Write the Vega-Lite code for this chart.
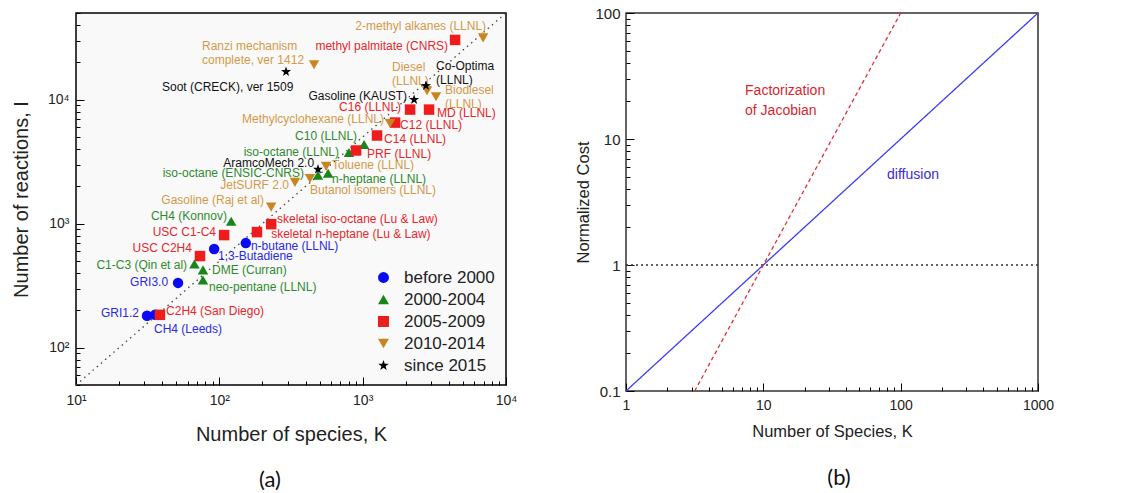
{
  "$schema": "https://vega.github.io/schema/vega-lite/v6.json",
  "background": "white",
  "padding": {"left": 10, "top": 5, "right": 0, "bottom": 0},
  "spacing": 57,
  "config": {
    "font": "Liberation Sans",
    "axis": {"grid": false, "domain": false, "tickColor": "black", "ticks": true, "tickWidth": 1, "labelColor": "#222", "titleColor": "#222", "titleFontWeight": "normal", "labelOverlap": false, "labelFlush": false}
  },
  "datasets": {
    "diag": [{"K": 10, "I": 50}, {"K": 10000, "I": 50000}],
    "points": [
      {"name": "GRI1.2", "K": 31.3, "I": 181, "period": "before 2000"},
      {"name": "CH4 (Leeds)", "K": 35.6, "I": 184, "period": "before 2000"},
      {"name": "GRI3.0", "K": 51.5, "I": 333, "period": "before 2000"},
      {"name": "1,3-Butadiene", "K": 92, "I": 624, "period": "before 2000"},
      {"name": "n-butane (LLNL)", "K": 153, "I": 697, "period": "before 2000"},
      {"name": "CH4 (Konnov)", "K": 121, "I": 1047, "period": "2000-2004"},
      {"name": "C1-C3 (Qin et al)", "K": 67, "I": 473, "period": "2000-2004"},
      {"name": "DME (Curran)", "K": 76.9, "I": 424, "period": "2000-2004"},
      {"name": "neo-pentane (LLNL)", "K": 76.9, "I": 351, "period": "2000-2004"},
      {"name": "iso-octane (ENSIC-CNRS)", "K": 488, "I": 2455, "period": "2000-2004"},
      {"name": "n-heptane (LLNL)", "K": 574, "I": 2547, "period": "2000-2004"},
      {"name": "iso-octane (LLNL)", "K": 803, "I": 3750, "period": "2000-2004"},
      {"name": "C10 (LLNL)", "K": 1023, "I": 4356, "period": "2000-2004"},
      {"name": "C2H4 (San Diego)", "K": 38.5, "I": 184, "period": "2005-2009"},
      {"name": "USC C2H4", "K": 73.3, "I": 548, "period": "2005-2009"},
      {"name": "USC C1-C4", "K": 108, "I": 809, "period": "2005-2009"},
      {"name": "skeletal n-heptane (Lu & Law)", "K": 183, "I": 855, "period": "2005-2009"},
      {"name": "skeletal iso-octane (Lu & Law)", "K": 230, "I": 991, "period": "2005-2009"},
      {"name": "PRF (LLNL)", "K": 900, "I": 3893, "period": "2005-2009"},
      {"name": "C14 (LLNL)", "K": 1259, "I": 5140, "period": "2005-2009"},
      {"name": "C12 (LLNL)", "K": 1683, "I": 6534, "period": "2005-2009"},
      {"name": "C16 (LLNL)", "K": 2143, "I": 8318, "period": "2005-2009"},
      {"name": "MD (LLNL)", "K": 2904, "I": 8318, "period": "2005-2009"},
      {"name": "methyl palmitate (CNRS)", "K": 4415, "I": 30340, "period": "2005-2009"},
      {"name": "Gasoline (Raj et al)", "K": 230, "I": 1360, "period": "2010-2014"},
      {"name": "JetSURF 2.0", "K": 337, "I": 2154, "period": "2010-2014"},
      {"name": "Butanol isomers (LLNL)", "K": 429, "I": 2317, "period": "2010-2014"},
      {"name": "Toluene (LLNL)", "K": 556, "I": 2897, "period": "2010-2014"},
      {"name": "Methylcyclohexane (LLNL)", "K": 1552, "I": 6415, "period": "2010-2014"},
      {"name": "Diesel (LLNL)", "K": 2812, "I": 11800, "period": "2010-2014"},
      {"name": "Biodiesel (LLNL)", "K": 3250, "I": 10570, "period": "2010-2014"},
      {"name": "2-methyl alkanes (LLNL)", "K": 6920, "I": 31500, "period": "2010-2014"},
      {"name": "Ranzi mechanism complete, ver 1412", "K": 458, "I": 19100, "period": "2010-2014"},
      {"name": "AramcoMech 2.0", "K": 488, "I": 2742, "period": "since 2015"},
      {"name": "Soot (CRECK), ver 1509", "K": 292, "I": 16800, "period": "since 2015"},
      {"name": "Gasoline (KAUST)", "K": 2285, "I": 10000, "period": "since 2015"},
      {"name": "Co-Optima (LLNL)", "K": 2766, "I": 12950, "period": "since 2015"}
    ],
    "labels": [
      {"text": "2-methyl alkanes (LLNL)", "lx": 7261, "ly": 39270, "period": "2010-2014", "side": "right"},
      {"text": "methyl palmitate (CNRS)", "lx": 3945, "ly": 27160, "period": "2005-2009", "side": "right"},
      {"text": "Ranzi mechanism\ncomplete, ver 1412", "lx": 75.7, "ly": 27160, "period": "2010-2014", "side": "left"},
      {"text": "Soot (CRECK), ver 1509", "lx": 39.8, "ly": 12710, "period": "since 2015", "side": "left"},
      {"text": "Diesel\n(LLNL)", "lx": 1603, "ly": 18400, "period": "2010-2014", "side": "left"},
      {"text": "Co-Optima\n(LLNL)", "lx": 3251, "ly": 18750, "period": "since 2015", "side": "left"},
      {"text": "Gasoline (KAUST)", "lx": 2042, "ly": 10770, "period": "since 2015", "side": "right"},
      {"text": "Biodiesel\n(LLNL)", "lx": 3758, "ly": 12020, "period": "2010-2014", "side": "left"},
      {"text": "C16 (LLNL)", "lx": 1854, "ly": 8790, "period": "2005-2009", "side": "right"},
      {"text": "MD (LLNL)", "lx": 3304, "ly": 7870, "period": "2005-2009", "side": "left"},
      {"text": "Methylcyclohexane (LLNL)", "lx": 1410, "ly": 7030, "period": "2010-2014", "side": "right"},
      {"text": "C12 (LLNL)", "lx": 1824, "ly": 6300, "period": "2005-2009", "side": "left"},
      {"text": "C10 (LLNL)", "lx": 914, "ly": 5050, "period": "2000-2004", "side": "right"},
      {"text": "C14 (LLNL)", "lx": 1410, "ly": 4860, "period": "2005-2009", "side": "left"},
      {"text": "iso-octane (LLNL)", "lx": 684, "ly": 3750, "period": "2000-2004", "side": "right"},
      {"text": "PRF (LLNL)", "lx": 1074, "ly": 3614, "period": "2005-2009", "side": "left"},
      {"text": "AramcoMech 2.0", "lx": 458, "ly": 3062, "period": "since 2015", "side": "right"},
      {"text": "Toluene (LLNL)", "lx": 611, "ly": 2951, "period": "2010-2014", "side": "left"},
      {"text": "iso-octane (ENSIC-CNRS)", "lx": 390, "ly": 2547, "period": "2000-2004", "side": "right"},
      {"text": "n-heptane (LLNL)", "lx": 611, "ly": 2275, "period": "2000-2004", "side": "left"},
      {"text": "JetSURF 2.0", "lx": 306, "ly": 2037, "period": "2010-2014", "side": "right"},
      {"text": "Butanol isomers (LLNL)", "lx": 429, "ly": 1858, "period": "2010-2014", "side": "left"},
      {"text": "Gasoline (Raj et al)", "lx": 205, "ly": 1545, "period": "2010-2014", "side": "right"},
      {"text": "skeletal iso-octane (Lu & Law)", "lx": 253, "ly": 1086, "period": "2005-2009", "side": "left"},
      {"text": "skeletal n-heptane (Lu & Law)", "lx": 230, "ly": 824, "period": "2005-2009", "side": "left"},
      {"text": "CH4 (Konnov)", "lx": 113, "ly": 1148, "period": "2000-2004", "side": "right"},
      {"text": "USC C1-C4", "lx": 94.8, "ly": 855, "period": "2005-2009", "side": "right"},
      {"text": "n-butane (LLNL)", "lx": 166, "ly": 659, "period": "before 2000", "side": "left"},
      {"text": "USC C2H4", "lx": 64.4, "ly": 635, "period": "2005-2009", "side": "right"},
      {"text": "1,3-Butadiene", "lx": 97.9, "ly": 548, "period": "before 2000", "side": "left"},
      {"text": "C1-C3 (Qin et al)", "lx": 59.6, "ly": 464, "period": "2000-2004", "side": "right"},
      {"text": "DME (Curran)", "lx": 88.9, "ly": 424, "period": "2000-2004", "side": "left"},
      {"text": "GRI3.0", "lx": 43.9, "ly": 339, "period": "before 2000", "side": "right"},
      {"text": "neo-pentane (LLNL)", "lx": 84.7, "ly": 309, "period": "2000-2004", "side": "left"},
      {"text": "C2H4 (San Diego)", "lx": 42.5, "ly": 198, "period": "2005-2009", "side": "left"},
      {"text": "GRI1.2", "lx": 27.5, "ly": 191, "period": "before 2000", "side": "right"},
      {"text": "CH4 (Leeds)", "lx": 35.0, "ly": 142, "period": "before 2000", "side": "left"}
    ],
    "costs": [
      {"curve": "diffusion", "K": 1, "cost": 0.1},
      {"curve": "diffusion", "K": 1000, "cost": 100},
      {"curve": "Factorization of Jacobian", "K": 3.162, "cost": 0.1},
      {"curve": "Factorization of Jacobian", "K": 100, "cost": 100}
    ],
    "reference": [{"cost": 1}],
    "annot": [
      {"text": "Factorization\nof Jacobian", "K": 7.36, "cost": 24, "curve": "Factorization of Jacobian"},
      {"text": "diffusion", "K": 79.6, "cost": 5.18, "curve": "diffusion"}
    ]
  },
  "hconcat": [
    {
      "width": 430,
      "height": 372,
      "view": {"stroke": "black", "strokeWidth": 1.5, "fill": "#f9f9f9"},
      "title": {"text": "(a)", "orient": "bottom", "font": "Lato", "fontSize": 22, "fontWeight": "normal", "color": "#111", "offset": 26, "anchor": "middle", "dx": -21},
      "resolve": {"scale": {"color": "independent", "shape": "independent"}},
      "layer": [
        {
          "data": {"name": "diag"},
          "mark": {"type": "line", "strokeDash": [1.5, 4], "color": "#444", "strokeWidth": 1.3},
          "encoding": {
            "x": {"field": "K", "type": "quantitative", "scale": {"type": "log", "domain": [10, 10000], "nice": false},
              "axis": {"title": "Number of species, K", "titleFontSize": 20, "titlePadding": 13, "labelFontSize": 14, "labelPadding": 16,
                "values": [10,20,30,40,50,60,70,80,90,100,200,300,400,500,600,700,800,900,1000,2000,3000,4000,5000,6000,7000,8000,9000,10000],
                "labelExpr": "datum.value == 10 ? '10¹' : datum.value == 100 ? '10²' : datum.value == 1000 ? '10³' : datum.value == 10000 ? '10⁴' : ''",
                "tickSize": {"condition": {"test": "datum.value == 10 || datum.value == 100 || datum.value == 1000 || datum.value == 10000", "value": -8}, "value": -4}}},
            "y": {"field": "I", "type": "quantitative", "scale": {"type": "log", "domain": [50, 50000], "nice": false},
              "axis": {"title": "Number of reactions, I", "titleFontSize": 20, "titlePadding": 16, "labelFontSize": 14, "labelPadding": 15,
                "values": [50,60,70,80,90,100,200,300,400,500,600,700,800,900,1000,2000,3000,4000,5000,6000,7000,8000,9000,10000,20000,30000,40000,50000],
                "labelExpr": "datum.value == 100 ? '10²' : datum.value == 1000 ? '10³' : datum.value == 10000 ? '10⁴' : ''",
                "tickSize": {"condition": {"test": "datum.value == 100 || datum.value == 1000 || datum.value == 10000", "value": -8}, "value": -4}}}
          }
        },
        {
          "data": {"name": "labels"},
          "transform": [{"filter": "datum.side == 'right'"}],
          "mark": {"type": "text", "align": "right", "baseline": "middle", "fontSize": 12, "lineBreak": "\n", "lineHeight": 14},
          "encoding": {
            "x": {"field": "lx", "type": "quantitative"},
            "y": {"field": "ly", "type": "quantitative"},
            "text": {"field": "text"},
            "color": {"condition": [
              {"test": "datum.period == 'before 2000'", "value": "#2a2ae6"},
              {"test": "datum.period == '2000-2004'", "value": "#2f8a2f"},
              {"test": "datum.period == '2005-2009'", "value": "#e8262b"},
              {"test": "datum.period == '2010-2014'", "value": "#d49a48"}], "value": "#111111"}
          }
        },
        {
          "data": {"name": "labels"},
          "transform": [{"filter": "datum.side == 'left'"}],
          "mark": {"type": "text", "align": "left", "baseline": "middle", "fontSize": 12, "lineBreak": "\n", "lineHeight": 14},
          "encoding": {
            "x": {"field": "lx", "type": "quantitative"},
            "y": {"field": "ly", "type": "quantitative"},
            "text": {"field": "text"},
            "color": {"condition": [
              {"test": "datum.period == 'before 2000'", "value": "#2a2ae6"},
              {"test": "datum.period == '2000-2004'", "value": "#2f8a2f"},
              {"test": "datum.period == '2005-2009'", "value": "#e8262b"},
              {"test": "datum.period == '2010-2014'", "value": "#d49a48"}], "value": "#111111"}
          }
        },
        {
          "data": {"name": "points"},
          "mark": {"type": "point", "filled": true, "size": 110, "opacity": 1},
          "encoding": {
            "x": {"field": "K", "type": "quantitative"},
            "y": {"field": "I", "type": "quantitative"},
            "color": {"field": "period", "type": "nominal",
              "scale": {"domain": ["before 2000", "2000-2004", "2005-2009", "2010-2014", "since 2015"], "range": ["#0a0af5", "#16851a", "#ee1c1c", "#c8861e", "#000000"]},
              "legend": {"orient": "bottom-right", "title": null, "labelFontSize": 17, "labelColor": "#222", "symbolSize": 120, "rowPadding": 4, "offset": 11, "labelOffset": 12}},
            "shape": {"field": "period", "type": "nominal",
              "scale": {"domain": ["before 2000", "2000-2004", "2005-2009", "2010-2014", "since 2015"], "range": ["circle", "triangle-up", "square", "triangle-down", "M0,-1L0.235,-0.324L0.951,-0.309L0.38,0.124L0.588,0.809L0,0.4L-0.588,0.809L-0.38,0.124L-0.951,-0.309L-0.235,-0.324Z"]},
              "legend": {"orient": "bottom-right", "title": null, "labelFontSize": 17, "labelColor": "#222", "symbolSize": 120, "rowPadding": 4, "offset": 11, "labelOffset": 12}}
          }
        }
      ]
    },
    {
      "width": 412,
      "height": 378,
      "view": {"stroke": "#333", "strokeWidth": 1.5},
      "title": {"text": "(b)", "orient": "bottom", "font": "Lato", "fontSize": 22, "fontWeight": "normal", "color": "#111", "offset": 28, "anchor": "middle", "frame": "group", "dx": 7},
      "layer": [
        {
          "data": {"name": "reference"},
          "mark": {"type": "rule", "strokeDash": [2, 3], "color": "#333", "strokeWidth": 1.3},
          "encoding": {
            "y": {"field": "cost", "type": "quantitative", "scale": {"type": "log", "domain": [0.1, 100], "nice": false},
              "axis": {"title": "Normalized Cost", "titleFontSize": 16.5, "titlePadding": 3, "labelFontSize": 15, "labelPadding": 14,
                "values": [0.1,0.2,0.3,0.4,0.5,0.6,0.7,0.8,0.9,1,2,3,4,5,6,7,8,9,10,20,30,40,50,60,70,80,90,100],
                "labelExpr": "datum.value == 0.1 ? '0.1' : datum.value == 1 ? '1' : datum.value == 10 ? '10' : datum.value == 100 ? '100' : ''",
                "tickSize": {"condition": {"test": "datum.value == 0.1 || datum.value == 1 || datum.value == 10 || datum.value == 100", "value": -8}, "value": -4}}}
          }
        },
        {
          "data": {"name": "costs"},
          "mark": {"type": "line", "strokeWidth": 1.3},
          "encoding": {
            "x": {"field": "K", "type": "quantitative", "scale": {"type": "log", "domain": [1, 1000], "nice": false},
              "axis": {"title": "Number of Species, K", "titleFontSize": 16.5, "titlePadding": 7, "labelFontSize": 14, "labelPadding": 15,
                "values": [1,2,3,4,5,6,7,8,9,10,20,30,40,50,60,70,80,90,100,200,300,400,500,600,700,800,900,1000],
                "labelExpr": "datum.value == 1 ? '1' : datum.value == 10 ? '10' : datum.value == 100 ? '100' : datum.value == 1000 ? '1000' : ''",
                "tickSize": {"condition": {"test": "datum.value == 1 || datum.value == 10 || datum.value == 100 || datum.value == 1000", "value": -8}, "value": -4}}},
            "y": {"field": "cost", "type": "quantitative"},
            "color": {"field": "curve", "type": "nominal", "legend": null,
              "scale": {"domain": ["diffusion", "Factorization of Jacobian"], "range": ["#3c3cf5", "#e0303a"]}},
            "strokeDash": {"field": "curve", "type": "nominal", "legend": null,
              "scale": {"domain": ["diffusion", "Factorization of Jacobian"], "range": [[1, 0], [4, 3]]}}
          }
        },
        {
          "data": {"name": "annot"},
          "mark": {"type": "text", "align": "left", "baseline": "middle", "fontSize": 14, "lineBreak": "\n", "lineHeight": 20},
          "encoding": {
            "x": {"field": "K", "type": "quantitative"},
            "y": {"field": "cost", "type": "quantitative"},
            "text": {"field": "text"},
            "color": {"condition": {"test": "datum.curve == 'diffusion'", "value": "#3a2ae0"}, "value": "#d9262e"}
          }
        }
      ]
    }
  ]
}
